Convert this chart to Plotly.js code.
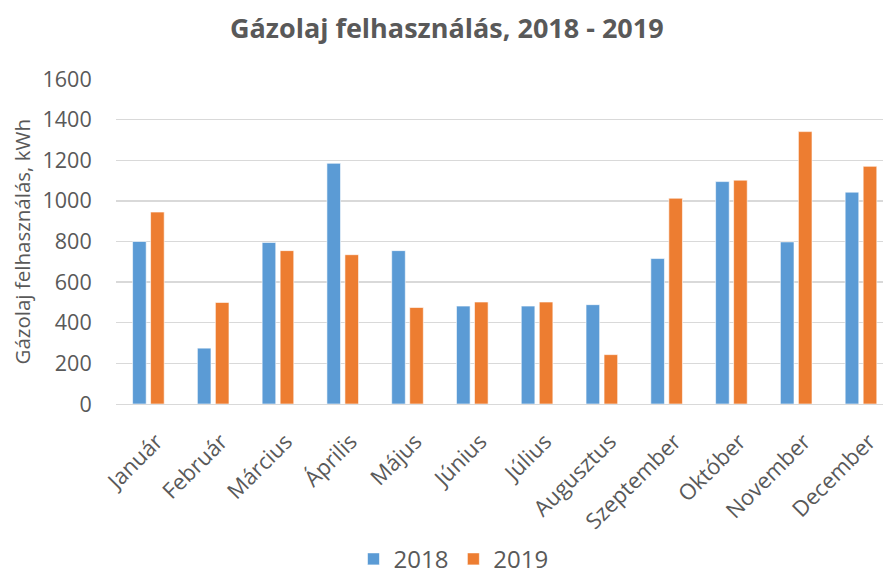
<!DOCTYPE html>
<html>
<head>
<meta charset="utf-8">
<script src="https://cdn.plot.ly/plotly-3.0.1.min.js"></script>
<style>html,body{margin:0;padding:0;background:#fff;}#chart{width:883px;height:576px;}</style>
</head>
<body>
<div id="chart"></div>
<script>
const months = ["Január","Február","Március","Április","Május","Június","Július","Augusztus","Szeptember","Október","November","December"];
const values2018 = [800, 275, 795, 1185, 755, 482, 482, 489, 716, 1095, 798, 1043];
const values2019 = [945, 500, 755, 735, 475, 502, 502, 243, 1013, 1102, 1341, 1170];
const seriesNames = ["2018", "2019"];
const yTicks = [0, 200, 400, 600, 800, 1000, 1200, 1400, 1600];

const fontFam = "Open Sans, Liberation Sans, sans-serif";
const grey = "#595959";
const traces = [
  {type:"bar", name:seriesNames[0], x:months, y:values2018, marker:{color:"#5B9BD5", line:{color:"#ffffff", width:0.6}}},
  {type:"bar", name:seriesNames[1], x:months, y:values2019, marker:{color:"#ED7D31", line:{color:"#ffffff", width:0.6}}}
];
const layout = {
  width:883, height:576,
  paper_bgcolor:"#fff", plot_bgcolor:"#fff",
  margin:{l:116, r:0, t:79, b:172, autoexpand:false},
  barmode:"group", bargap:0.444, bargroupgap:0.244,
  title:{text:"<b>Gázolaj felhasználás, 2018 - 2019</b>", x:0.506, xref:"container", xanchor:"center",
         y:0.951, yref:"container", yanchor:"middle",
         font:{family:fontFam, size:27, color:grey}},
  xaxis:{automargin:false, range:[-0.5, 11.34], tickangle:-45,
         tickfont:{family:fontFam, size:22, color:grey}, ticklabelshift:8,
         showline:true, linecolor:"#d9d9d9", linewidth:1, ticks:"outside", ticklen:15, tickcolor:"rgba(0,0,0,0)", showgrid:false},
  yaxis:{automargin:false, range:[0,1600], tickvals:yTicks, ticktext:yTicks.map(String),
         tickfont:{family:fontFam, size:21.5, color:grey},
         gridcolor:"#d9d9d9", gridwidth:1.3, zeroline:false, ticks:"outside", ticklen:19, tickcolor:"rgba(0,0,0,0)"},
  annotations:[{text:"Gázolaj felhasználás, kWh", xref:"paper", yref:"paper", x:-0.1226, y:0.5,
                xanchor:"center", yanchor:"middle", textangle:-90, showarrow:false,
                font:{family:fontFam, size:20.5, color:grey}}],
  legend:{orientation:"h", x:0.44, xanchor:"center", y:-0.547, yanchor:"bottom",
          font:{family:fontFam, size:24, color:grey}, traceorder:"normal"},
  showlegend:true
};
Plotly.newPlot("chart", traces, layout, {displayModeBar:false, staticPlot:true});
</script>
</body>
</html>
